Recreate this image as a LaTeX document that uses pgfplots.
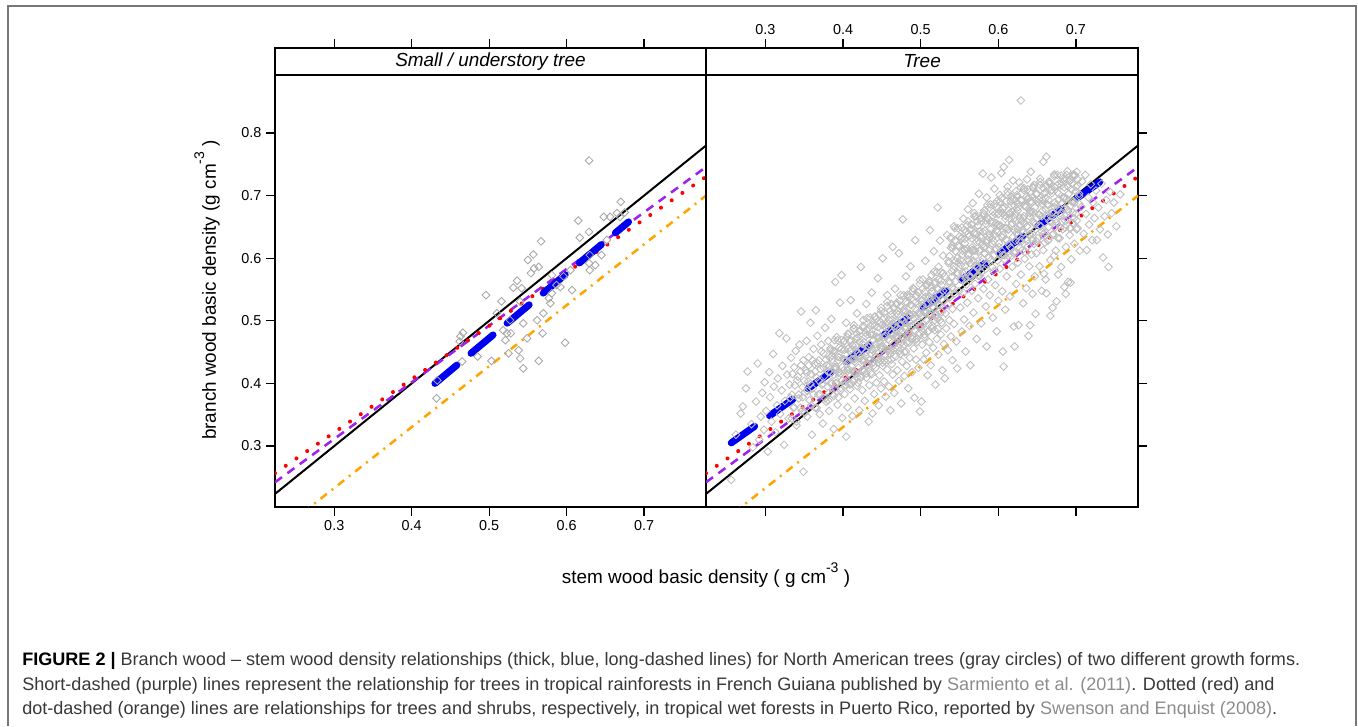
\documentclass[border=0pt]{standalone}
\usepackage{fontspec}
\setmainfont{Liberation Sans}
\usepackage{pgfplots}
\pgfplotsset{compat=1.18}
\definecolor{rpurple}{HTML}{A020F0}
\definecolor{rorange}{HTML}{FFA500}
\definecolor{ptgray}{HTML}{BEBEBE}
\definecolor{ptgrayd}{HTML}{A8A8A8}
\definecolor{capgray}{HTML}{8C8C8C}
\definecolor{captext}{HTML}{383838}
\definecolor{framegray}{HTML}{777777}
\definecolor{rblue}{HTML}{0000F0}
\newcommand\lab{\fontsize{14.2}{16}\selectfont}
\newcommand\tkl{\fontsize{10.8}{12}\selectfont}
\newcommand\capf{\fontsize{13.55}{15}\selectfont}
\newcommand\supm{\raisebox{0.62em}{\fontsize{10.5}{10}\selectfont -3}}
\pgfplotsset{
  lat/.style={
    scale only axis, anchor=south west,
    height=344.25pt,
    xmin=0.2235, xmax=0.780, ymin=0.2026, ymax=0.9358,
    axis line style={line width=0.9pt},
    tick style={black, line width=0.9pt},
    tick align=outside, major tick length=6.75pt,
    xtick={0.3,0.4,0.5,0.6,0.7},
    ytick={0.3,0.4,0.5,0.6,0.7,0.8},
    ticklabel style={font=\tkl},
    /pgf/number format/assume math mode=true,
    /pgf/number format/fixed,
    clip=true,
  },
  pts/.style={only marks, mark=square, mark size=2.05pt,
    mark options={line width=0.65pt, rotate=45}},
  lblack/.style={black, mark=none, line width=1.5pt},
  lpurple/.style={rpurple, mark=none, line width=1.9pt, dash pattern=on 6.5pt off 5pt},
  lred/.style={red, mark=none, line width=3pt, line cap=round, dash pattern=on 0.01pt off 9.75pt},
  lorange/.style={rorange, mark=none, line width=1.9pt, dash pattern=on 6pt off 4.5pt on 1.5pt off 4.5pt},
  lblue/.style={rblue, mark=none, line width=5.25pt, line cap=round, dash pattern=on 21.5pt off 13.75pt},
}
\begin{document}
\begin{tikzpicture}[x=0.75pt,y=0.75pt]
\path (0,0) rectangle (1358,726);
\draw[framegray, line width=1.4pt] (8,0) -- (8,720) -- (1356,720) -- (1356,0);

% ---------- Panel 1 ----------
\begin{axis}[lat, at={(206.25pt,164.25pt)}, width=323.25pt,
  xtick pos=both, xticklabel pos=bottom, ytick pos=left]
\addplot[pts, draw=ptgrayd] coordinates {
(0.629,0.756) (0.670,0.690) (0.615,0.660) (0.648,0.666) (0.656,0.666) (0.665,0.672)
(0.629,0.642) (0.617,0.633) (0.567,0.627) (0.557,0.606) (0.550,0.597) (0.558,0.584)
(0.564,0.586) (0.554,0.576) (0.536,0.564) (0.531,0.553) (0.542,0.552) (0.496,0.541)
(0.516,0.531) (0.540,0.531) (0.579,0.528) (0.577,0.536) (0.592,0.554) (0.607,0.549)
(0.629,0.592) (0.637,0.589) (0.645,0.605) (0.630,0.581) (0.630,0.605) (0.581,0.573)
(0.570,0.512) (0.569,0.480) (0.562,0.501) (0.544,0.496) (0.528,0.480) (0.521,0.469)
(0.549,0.472) (0.598,0.465) (0.538,0.453) (0.525,0.448) (0.540,0.440) (0.544,0.424)
(0.564,0.436) (0.503,0.436) (0.485,0.443) (0.466,0.481) (0.463,0.475) (0.462,0.467)
(0.432,0.376) (0.433,0.405) (0.465,0.435) (0.518,0.485) (0.523,0.480) (0.587,0.557)
(0.581,0.544) (0.596,0.571) (0.510,0.512) (0.527,0.501) (0.605,0.581) (0.669,0.666)
(0.675,0.673) (0.652,0.629)
};
\addplot[lblack] coordinates {(0.2235,0.2235) (0.780,0.780)};
\addplot[lpurple] coordinates {(0.2235,0.2421) (0.780,0.7457)};
\addplot[lred] coordinates {(0.2235,0.2566) (0.780,0.7302)};
\addplot[lorange] coordinates {(0.260,0.194) (0.780,0.700)};
\addplot[lblue] coordinates {(0.430,0.400) (0.680,0.658)};
\draw[line width=0.9pt] (rel axis cs:0,0.9412) -- (rel axis cs:1,0.9412);
\node[font=\lab\itshape] at (rel axis cs:0.5,0.9706) {Small / understory tree};
\end{axis}

% ---------- Panel 2 ----------
\begin{axis}[lat, at={(529.5pt,164.25pt)}, width=324pt,
  xtick pos=both, xticklabel pos=top, ytick pos=right, yticklabels={}]
\addplot[pts, draw=ptgray] coordinates {
(0.256,0.246) (0.262,0.318) (0.268,0.352) (0.271,0.363) (0.275,0.392) (0.277,0.419) (0.282,0.335) (0.284,0.298) (0.288,0.371) (0.290,0.432) (0.292,0.310) (0.294,0.347) (0.296,0.385) (0.298,0.326) (0.299,0.402)
(0.301,0.356) (0.303,0.291) (0.305,0.418) (0.306,0.378) (0.308,0.339) (0.310,0.447) (0.311,0.395) (0.313,0.322) (0.315,0.365) (0.316,0.408) (0.318,0.480) (0.319,0.351) (0.321,0.389) (0.322,0.428) (0.324,0.302) (0.325,0.372) (0.327,0.472) (0.328,0.414) (0.330,0.344) (0.331,0.398) (0.333,0.441) (0.334,0.382) (0.336,0.361) (0.337,0.426) (0.339,0.452) (0.340,0.333) (0.341,0.405) (0.343,0.376) (0.344,0.462) (0.345,0.419) (0.346,0.515) (0.347,0.356) (0.348,0.394) (0.349,0.259) (0.349,0.437)
(0.351,0.386) (0.352,0.421) (0.353,0.468) (0.354,0.347) (0.355,0.403) (0.356,0.442) (0.357,0.373) (0.358,0.497) (0.359,0.415) (0.360,0.318) (0.361,0.392) (0.362,0.455) (0.363,0.431) (0.364,0.361) (0.365,0.517) (0.366,0.409) (0.367,0.476) (0.368,0.382) (0.369,0.437) (0.370,0.351) (0.371,0.423) (0.372,0.462) (0.373,0.398) (0.374,0.336) (0.375,0.448) (0.376,0.412) (0.377,0.489) (0.378,0.371) (0.379,0.429) (0.380,0.395) (0.381,0.468) (0.382,0.356) (0.383,0.441) (0.384,0.417) (0.385,0.503) (0.386,0.383) (0.387,0.452) (0.388,0.327) (0.389,0.426) (0.390,0.562) (0.391,0.401) (0.392,0.474) (0.393,0.366) (0.394,0.437) (0.395,0.412) (0.396,0.529) (0.397,0.389) (0.398,0.573) (0.398,0.455) (0.399,0.345)
(0.401,0.421) (0.402,0.468) (0.402,0.383) (0.403,0.446) (0.404,0.315) (0.404,0.497) (0.405,0.405) (0.406,0.434) (0.406,0.362) (0.407,0.479) (0.408,0.416) (0.409,0.452) (0.409,0.391) (0.410,0.533) (0.411,0.427) (0.412,0.348) (0.412,0.461) (0.413,0.403) (0.414,0.488) (0.415,0.439) (0.415,0.376) (0.416,0.415) (0.417,0.472) (0.418,0.396) (0.418,0.512) (0.419,0.448) (0.420,0.425) (0.421,0.357) (0.421,0.483) (0.422,0.411) (0.423,0.586) (0.424,0.455) (0.424,0.437) (0.425,0.389) (0.426,0.501) (0.427,0.421) (0.427,0.466) (0.428,0.372) (0.429,0.444) (0.430,0.409) (0.430,0.527) (0.431,0.478) (0.432,0.431) (0.433,0.339) (0.433,0.459) (0.434,0.397) (0.435,0.492) (0.436,0.448) (0.436,0.417) (0.437,0.545) (0.438,0.352) (0.439,0.469) (0.439,0.434) (0.440,0.383) (0.441,0.507) (0.442,0.456) (0.442,0.425) (0.443,0.401) (0.444,0.481) (0.445,0.568) (0.445,0.442) (0.446,0.365) (0.447,0.466) (0.447,0.413) (0.448,0.498) (0.448,0.437) (0.449,0.392) (0.449,0.521) (0.450,0.454)
(0.451,0.428) (0.451,0.600) (0.452,0.474) (0.453,0.403) (0.453,0.513) (0.454,0.446) (0.455,0.379) (0.455,0.489) (0.456,0.461) (0.457,0.422) (0.457,0.541) (0.458,0.437) (0.459,0.502) (0.459,0.395) (0.460,0.468) (0.461,0.453) (0.461,0.357) (0.462,0.527) (0.463,0.481) (0.463,0.431) (0.464,0.618) (0.464,0.414) (0.465,0.495) (0.466,0.462) (0.466,0.385) (0.467,0.551) (0.468,0.476) (0.468,0.443) (0.469,0.512) (0.470,0.421) (0.470,0.489) (0.471,0.458) (0.472,0.608) (0.472,0.404) (0.473,0.532) (0.474,0.471) (0.474,0.447) (0.475,0.368) (0.476,0.503) (0.476,0.435) (0.477,0.662) (0.477,0.483) (0.478,0.518) (0.479,0.462) (0.479,0.412) (0.480,0.497) (0.481,0.571) (0.481,0.451) (0.482,0.428) (0.483,0.539) (0.483,0.476) (0.484,0.392) (0.485,0.509) (0.485,0.465) (0.486,0.441) (0.487,0.587) (0.487,0.491) (0.488,0.525) (0.489,0.418) (0.489,0.472) (0.490,0.552) (0.491,0.456) (0.491,0.503) (0.492,0.377) (0.493,0.484) (0.493,0.629) (0.494,0.438) (0.495,0.517) (0.495,0.466) (0.496,0.498) (0.497,0.545) (0.497,0.425) (0.498,0.481) (0.499,0.355) (0.499,0.512)
(0.501,0.371) (0.501,0.531) (0.502,0.462) (0.503,0.495) (0.503,0.566) (0.504,0.438) (0.505,0.513) (0.505,0.478) (0.506,0.596) (0.507,0.449) (0.507,0.527) (0.508,0.501) (0.509,0.413) (0.509,0.558) (0.510,0.484) (0.511,0.539) (0.511,0.466) (0.512,0.645) (0.513,0.508) (0.513,0.429) (0.514,0.573) (0.515,0.492) (0.515,0.547) (0.516,0.457) (0.517,0.521) (0.517,0.611) (0.518,0.485) (0.519,0.398) (0.519,0.562) (0.520,0.533) (0.521,0.471) (0.521,0.504) (0.522,0.681) (0.523,0.586) (0.523,0.446) (0.524,0.541) (0.525,0.516) (0.525,0.628) (0.526,0.478) (0.527,0.557) (0.527,0.497) (0.528,0.421) (0.529,0.604) (0.529,0.532) (0.530,0.463) (0.531,0.408) (0.531,0.571) (0.532,0.512) (0.533,0.548) (0.533,0.488) (0.534,0.637) (0.535,0.526) (0.535,0.453) (0.536,0.592) (0.537,0.563) (0.537,0.501) (0.538,0.538) (0.539,0.475) (0.539,0.617) (0.540,0.553) (0.541,0.519) (0.541,0.437) (0.542,0.582) (0.543,0.495) (0.543,0.651) (0.544,0.544) (0.545,0.611) (0.546,0.467) (0.547,0.424) (0.548,0.575)
(0.551,0.597) (0.551,0.521) (0.552,0.631) (0.553,0.483) (0.553,0.566) (0.554,0.612) (0.555,0.545) (0.555,0.663) (0.556,0.502) (0.557,0.587) (0.557,0.624) (0.558,0.451) (0.559,0.558) (0.559,0.643) (0.560,0.529) (0.561,0.605) (0.561,0.678) (0.562,0.571) (0.563,0.492) (0.563,0.636) (0.564,0.429) (0.564,0.592) (0.565,0.654) (0.566,0.548) (0.566,0.617) (0.567,0.688) (0.568,0.578) (0.568,0.513) (0.569,0.641) (0.570,0.603) (0.570,0.559) (0.571,0.667) (0.572,0.626) (0.572,0.471) (0.573,0.587) (0.574,0.652) (0.574,0.536) (0.575,0.703) (0.576,0.611) (0.576,0.572) (0.577,0.635) (0.578,0.659) (0.578,0.496) (0.579,0.594) (0.580,0.735) (0.580,0.622) (0.581,0.551) (0.582,0.676) (0.582,0.608) (0.583,0.644) (0.584,0.523) (0.584,0.583) (0.585,0.459) (0.585,0.697) (0.586,0.629) (0.587,0.662) (0.587,0.566) (0.588,0.612) (0.589,0.681) (0.589,0.541) (0.590,0.646) (0.591,0.598) (0.591,0.729) (0.592,0.624) (0.593,0.505) (0.593,0.668) (0.594,0.579) (0.595,0.638) (0.595,0.711) (0.596,0.557) (0.597,0.656) (0.597,0.615) (0.598,0.483) (0.598,0.691) (0.599,0.596) (0.599,0.642) (0.600,0.532) (0.600,0.671)
(0.601,0.624) (0.602,0.701) (0.602,0.583) (0.603,0.652) (0.604,0.736) (0.604,0.612) (0.605,0.547) (0.606,0.679) (0.606,0.637) (0.607,0.427) (0.607,0.746) (0.608,0.598) (0.609,0.663) (0.609,0.518) (0.610,0.691) (0.611,0.628) (0.611,0.571) (0.612,0.714) (0.613,0.646) (0.613,0.604) (0.614,0.757) (0.615,0.672) (0.615,0.539) (0.616,0.617) (0.617,0.698) (0.617,0.653) (0.618,0.586) (0.619,0.724) (0.619,0.634) (0.620,0.491) (0.621,0.684) (0.621,0.611) (0.622,0.659) (0.623,0.559) (0.623,0.707) (0.624,0.641) (0.625,0.593) (0.625,0.676) (0.626,0.493) (0.627,0.721) (0.627,0.627) (0.628,0.664) (0.629,0.852) (0.629,0.574) (0.630,0.692) (0.631,0.645) (0.631,0.613) (0.632,0.528) (0.633,0.709) (0.633,0.667) (0.634,0.599) (0.635,0.631) (0.635,0.683) (0.636,0.552) (0.637,0.726) (0.637,0.651) (0.638,0.619) (0.639,0.697) (0.639,0.476) (0.640,0.587) (0.641,0.672) (0.641,0.638) (0.642,0.738) (0.643,0.606) (0.643,0.689) (0.644,0.543) (0.645,0.658) (0.645,0.714) (0.646,0.623) (0.647,0.571) (0.647,0.681) (0.648,0.646) (0.648,0.511) (0.649,0.703) (0.649,0.608) (0.650,0.664) (0.621,0.459) (0.641,0.493) (0.606,0.451)
(0.651,0.632) (0.652,0.694) (0.653,0.587) (0.654,0.717) (0.655,0.651) (0.656,0.548) (0.657,0.676) (0.658,0.754) (0.658,0.613) (0.659,0.703) (0.660,0.641) (0.661,0.566) (0.662,0.762) (0.662,0.544) (0.663,0.686) (0.664,0.628) (0.665,0.722) (0.666,0.659) (0.667,0.597) (0.668,0.708) (0.669,0.673) (0.670,0.521) (0.671,0.639) (0.672,0.731) (0.673,0.689) (0.674,0.612) (0.675,0.657) (0.676,0.716) (0.677,0.574) (0.678,0.694) (0.679,0.632) (0.680,0.668) (0.681,0.586) (0.682,0.721) (0.683,0.646) (0.684,0.697) (0.685,0.554) (0.686,0.679) (0.687,0.618) (0.688,0.726) (0.689,0.662) (0.690,0.562) (0.691,0.703) (0.692,0.637) (0.693,0.684) (0.694,0.598) (0.695,0.719) (0.696,0.656) (0.697,0.691) (0.698,0.623) (0.699,0.732) (0.700,0.671) (0.701,0.738) (0.667,0.508) (0.675,0.531) (0.659,0.575) (0.687,0.543) (0.693,0.561) (0.672,0.604)
(0.702,0.648) (0.704,0.703) (0.705,0.612) (0.707,0.682) (0.708,0.723) (0.710,0.639) (0.712,0.733) (0.713,0.671) (0.714,0.613) (0.716,0.697) (0.717,0.654) (0.719,0.718) (0.721,0.629) (0.722,0.689) (0.724,0.664) (0.726,0.708) (0.727,0.629) (0.729,0.681) (0.731,0.646) (0.733,0.719) (0.735,0.601) (0.737,0.667) (0.739,0.693) (0.741,0.638) (0.742,0.586) (0.744,0.706) (0.746,0.672) (0.749,0.689) (0.752,0.651) (0.757,0.702)
(0.381,0.373) (0.382,0.427) (0.384,0.453) (0.385,0.399) (0.386,0.444) (0.388,0.414) (0.389,0.469) (0.390,0.393) (0.391,0.426) (0.393,0.443) (0.394,0.378) (0.395,0.457) (0.397,0.416) (0.398,0.469) (0.399,0.405) (0.401,0.439)
(0.402,0.454) (0.403,0.398) (0.405,0.437) (0.406,0.479) (0.407,0.423) (0.409,0.467) (0.410,0.400) (0.411,0.454) (0.413,0.439) (0.414,0.493) (0.415,0.417) (0.417,0.453) (0.418,0.479) (0.419,0.401) (0.421,0.466) (0.422,0.441)
(0.423,0.409) (0.425,0.463) (0.426,0.489) (0.427,0.435) (0.429,0.481) (0.430,0.450) (0.431,0.504) (0.433,0.429) (0.434,0.463) (0.435,0.479) (0.437,0.415) (0.438,0.493) (0.439,0.452) (0.441,0.506) (0.442,0.442) (0.443,0.475)
(0.445,0.490) (0.446,0.434) (0.447,0.473) (0.449,0.516) (0.450,0.460) (0.451,0.502) (0.453,0.436) (0.454,0.491) (0.455,0.475) (0.457,0.530) (0.458,0.453) (0.459,0.489) (0.461,0.516) (0.462,0.438) (0.463,0.502) (0.465,0.477)
(0.466,0.445) (0.467,0.499) (0.469,0.526) (0.470,0.472) (0.471,0.516) (0.473,0.486) (0.474,0.541) (0.475,0.465) (0.477,0.500) (0.478,0.515) (0.479,0.450) (0.481,0.530) (0.482,0.489) (0.483,0.542) (0.485,0.478) (0.486,0.511)
(0.487,0.526) (0.489,0.471) (0.490,0.510) (0.491,0.551) (0.493,0.496) (0.494,0.539) (0.495,0.472) (0.497,0.527) (0.498,0.511) (0.499,0.565) (0.501,0.490) (0.502,0.526) (0.503,0.552) (0.505,0.474) (0.506,0.538) (0.507,0.513)
(0.509,0.482) (0.510,0.536) (0.511,0.561) (0.513,0.508) (0.514,0.553) (0.515,0.522) (0.517,0.578) (0.518,0.501) (0.519,0.535) (0.521,0.552) (0.522,0.487) (0.523,0.566) (0.525,0.525) (0.526,0.578) (0.527,0.514) (0.529,0.548)
(0.536,0.539) (0.537,0.603) (0.539,0.631) (0.540,0.570) (0.541,0.621) (0.543,0.587) (0.544,0.648) (0.545,0.563) (0.547,0.600) (0.548,0.620) (0.549,0.547) (0.550,0.635) (0.552,0.589) (0.553,0.649) (0.554,0.577) (0.556,0.614)
(0.557,0.631) (0.558,0.568) (0.560,0.615) (0.561,0.659) (0.562,0.596) (0.564,0.645) (0.565,0.570) (0.566,0.632) (0.568,0.613) (0.569,0.672) (0.570,0.588) (0.572,0.632) (0.573,0.659) (0.574,0.572) (0.576,0.643) (0.577,0.614)
(0.578,0.577) (0.580,0.642) (0.581,0.669) (0.582,0.608) (0.584,0.660) (0.585,0.625) (0.586,0.685) (0.588,0.601) (0.589,0.638) (0.590,0.658) (0.592,0.586) (0.593,0.674) (0.594,0.627) (0.596,0.687) (0.597,0.615) (0.598,0.652)
(0.600,0.670) (0.601,0.607) (0.602,0.652) (0.604,0.696) (0.605,0.633) (0.606,0.680) (0.608,0.605) (0.609,0.668) (0.610,0.647) (0.612,0.706) (0.613,0.622) (0.614,0.664) (0.616,0.691) (0.617,0.604) (0.618,0.674) (0.620,0.645)
(0.621,0.608) (0.622,0.671) (0.624,0.698) (0.625,0.637) (0.626,0.687) (0.628,0.652) (0.629,0.713) (0.630,0.627) (0.632,0.664) (0.633,0.684) (0.634,0.610) (0.636,0.698) (0.637,0.651) (0.638,0.710) (0.640,0.638) (0.641,0.675)
(0.642,0.691) (0.644,0.628) (0.645,0.674) (0.646,0.717) (0.648,0.654) (0.649,0.702) (0.650,0.626) (0.652,0.689) (0.653,0.669) (0.654,0.727) (0.656,0.643) (0.657,0.686) (0.658,0.712) (0.660,0.625) (0.661,0.696) (0.662,0.666)
(0.664,0.629) (0.665,0.693) (0.666,0.719) (0.668,0.658) (0.669,0.709) (0.670,0.673) (0.672,0.734) (0.673,0.649) (0.674,0.685) (0.676,0.705) (0.677,0.632) (0.678,0.719) (0.680,0.672) (0.681,0.732) (0.682,0.659) (0.684,0.696)
(0.685,0.713) (0.686,0.649) (0.688,0.695) (0.689,0.739) (0.690,0.675) (0.692,0.723) (0.693,0.648) (0.694,0.710) (0.696,0.690) (0.697,0.732) (0.698,0.664) (0.700,0.707) (0.701,0.646) (0.702,0.716) (0.704,0.687)
(0.381,0.419) (0.382,0.385) (0.384,0.456) (0.385,0.402) (0.386,0.438) (0.388,0.380) (0.389,0.451) (0.390,0.422) (0.391,0.400) (0.393,0.469) (0.394,0.417) (0.395,0.442) (0.397,0.393) (0.398,0.455) (0.399,0.426) (0.401,0.467)
(0.402,0.437) (0.403,0.403) (0.405,0.474) (0.406,0.420) (0.407,0.456) (0.409,0.398) (0.410,0.469) (0.411,0.439) (0.413,0.419) (0.414,0.487) (0.415,0.435) (0.417,0.461) (0.418,0.410) (0.419,0.473) (0.421,0.445) (0.422,0.485)
(0.423,0.455) (0.425,0.421) (0.426,0.492) (0.427,0.438) (0.429,0.475) (0.430,0.416) (0.431,0.486) (0.433,0.458) (0.434,0.437) (0.435,0.505) (0.437,0.454) (0.438,0.478) (0.439,0.428) (0.441,0.492) (0.442,0.463) (0.443,0.503)
(0.445,0.473) (0.446,0.439) (0.447,0.510) (0.449,0.457) (0.450,0.493) (0.451,0.433) (0.453,0.505) (0.454,0.476) (0.455,0.455) (0.457,0.524) (0.458,0.471) (0.459,0.496) (0.461,0.447) (0.462,0.510) (0.463,0.481) (0.465,0.521)
(0.466,0.491) (0.467,0.457) (0.469,0.529) (0.470,0.475) (0.471,0.510) (0.473,0.452) (0.474,0.523) (0.475,0.494) (0.477,0.474) (0.478,0.541) (0.479,0.489) (0.481,0.515) (0.482,0.465) (0.483,0.528) (0.485,0.499) (0.486,0.539)
(0.487,0.509) (0.489,0.476) (0.490,0.547) (0.491,0.492) (0.493,0.529) (0.494,0.470) (0.495,0.541) (0.497,0.513) (0.498,0.491) (0.499,0.559) (0.501,0.508) (0.502,0.533) (0.503,0.483) (0.505,0.546) (0.506,0.517) (0.507,0.557)
(0.509,0.528) (0.510,0.494) (0.511,0.564) (0.513,0.511) (0.514,0.547) (0.515,0.488) (0.517,0.560) (0.518,0.530) (0.519,0.509) (0.521,0.578) (0.522,0.526) (0.523,0.551) (0.525,0.501) (0.526,0.564) (0.527,0.535) (0.529,0.576)
(0.536,0.595) (0.537,0.560) (0.539,0.634) (0.540,0.579) (0.541,0.616) (0.543,0.551) (0.544,0.628) (0.545,0.595) (0.547,0.577) (0.548,0.648) (0.549,0.593) (0.550,0.619) (0.552,0.566) (0.553,0.633) (0.554,0.606) (0.556,0.645)
(0.557,0.614) (0.558,0.579) (0.560,0.653) (0.561,0.598) (0.562,0.635) (0.564,0.570) (0.565,0.647) (0.566,0.613) (0.568,0.596) (0.569,0.667) (0.570,0.612) (0.572,0.639) (0.573,0.585) (0.574,0.652) (0.576,0.625) (0.577,0.664)
(0.578,0.633) (0.580,0.599) (0.581,0.672) (0.582,0.617) (0.584,0.655) (0.585,0.589) (0.586,0.665) (0.588,0.633) (0.589,0.615) (0.590,0.686) (0.592,0.632) (0.593,0.658) (0.594,0.604) (0.596,0.671) (0.597,0.644) (0.598,0.683)
(0.600,0.653) (0.601,0.618) (0.602,0.690) (0.604,0.635) (0.605,0.672) (0.606,0.605) (0.608,0.682) (0.609,0.649) (0.610,0.630) (0.612,0.701) (0.613,0.646) (0.614,0.671) (0.616,0.617) (0.617,0.684) (0.618,0.656) (0.620,0.695)
(0.621,0.664) (0.622,0.628) (0.624,0.701) (0.625,0.646) (0.626,0.682) (0.628,0.616) (0.629,0.693) (0.630,0.659) (0.632,0.641) (0.633,0.712) (0.634,0.656) (0.636,0.682) (0.637,0.628) (0.638,0.694) (0.640,0.667) (0.641,0.706)
(0.642,0.674) (0.644,0.639) (0.645,0.712) (0.646,0.656) (0.648,0.693) (0.649,0.627) (0.650,0.703) (0.652,0.670) (0.653,0.652) (0.654,0.722) (0.656,0.667) (0.657,0.693) (0.658,0.638) (0.660,0.705) (0.661,0.678) (0.662,0.716)
(0.664,0.685) (0.665,0.650) (0.666,0.722) (0.668,0.667) (0.669,0.704) (0.670,0.637) (0.672,0.714) (0.673,0.681) (0.674,0.662) (0.676,0.733) (0.677,0.678) (0.678,0.703) (0.680,0.649) (0.681,0.716) (0.682,0.688) (0.684,0.727)
(0.685,0.696) (0.686,0.660) (0.688,0.733) (0.689,0.678) (0.690,0.714) (0.692,0.648) (0.693,0.725) (0.694,0.691) (0.696,0.673) (0.697,0.734) (0.698,0.688) (0.700,0.714) (0.701,0.660) (0.702,0.726) (0.704,0.699)
(0.332,0.377) (0.334,0.344) (0.335,0.415) (0.337,0.362) (0.338,0.397) (0.340,0.339) (0.342,0.411) (0.343,0.382) (0.345,0.361) (0.346,0.429) (0.348,0.378) (0.350,0.404) (0.351,0.353) (0.353,0.417) (0.354,0.388)
(0.356,0.429) (0.358,0.399) (0.359,0.365) (0.361,0.437) (0.362,0.383) (0.364,0.419) (0.366,0.361) (0.367,0.432) (0.369,0.404) (0.370,0.383) (0.372,0.451) (0.374,0.400) (0.375,0.425) (0.377,0.376) (0.378,0.438)
};
\addplot[lblack] coordinates {(0.2235,0.2235) (0.780,0.780)};
\addplot[lpurple] coordinates {(0.2235,0.2421) (0.780,0.7457)};
\addplot[lred] coordinates {(0.2235,0.2566) (0.780,0.7302)};
\addplot[lorange] coordinates {(0.260,0.194) (0.780,0.700)};
\addplot[lblue] coordinates {(0.256,0.305) (0.747,0.736)};
\draw[line width=0.9pt] (rel axis cs:0,0.9412) -- (rel axis cs:1,0.9412);
\node[font=\lab\itshape] at (rel axis cs:0.5,0.9706) {Tree};
\end{axis}

% axis titles
\node[font=\lab, rotate=90] at (207,436) {branch wood basic density (g cm\supm\ )};
\node[font=\lab] at (706,151) {stem wood basic density ( g cm\supm\ )};

% caption
\node[anchor=base west, inner sep=0pt, font=\capf, text=captext] at (22,60) {\textbf{\color{black}FIGURE 2 |} Branch wood – stem wood density relationships (thick, blue, long-dashed lines) for North American trees (gray circles) of two different growth forms.};
\node[anchor=base west, inner sep=0pt, font=\capf, text=captext] at (22,35.5) {Short-dashed (purple) lines represent the relationship for trees in tropical rainforests in French Guiana published by {\color{capgray}Sarmiento et al. (2011)}. Dotted (red) and};
\node[anchor=base west, inner sep=0pt, font=\capf, text=captext] at (22,12) {dot-dashed (orange) lines are relationships for trees and shrubs, respectively, in tropical wet forests in Puerto Rico, reported by {\color{capgray}Swenson and Enquist (2008)}.};
\end{tikzpicture}
\end{document}
